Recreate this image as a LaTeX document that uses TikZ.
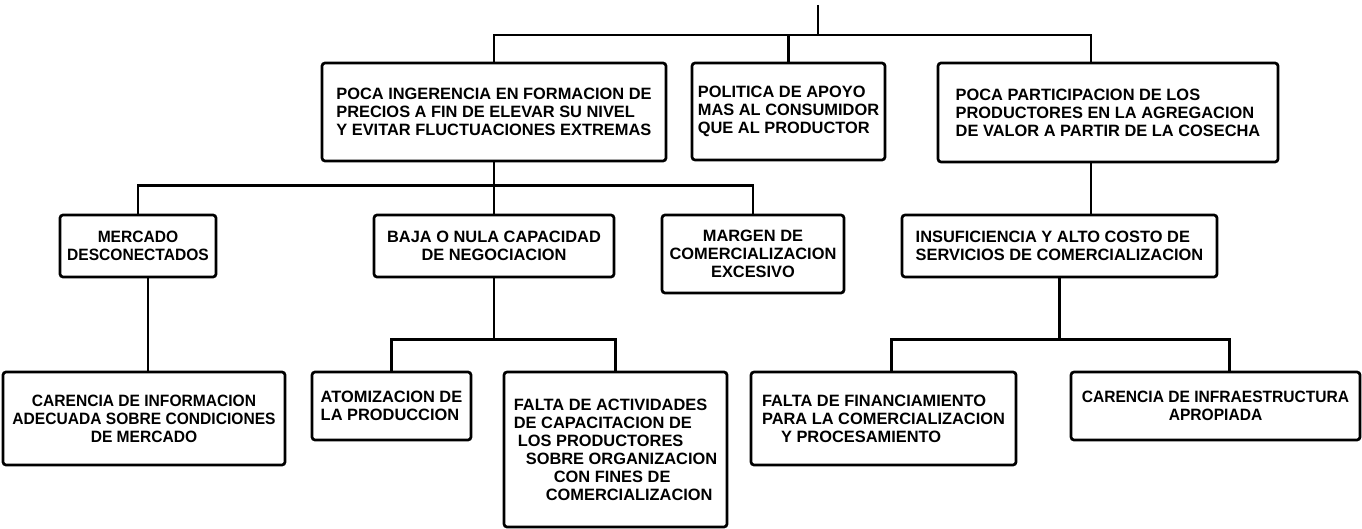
\documentclass[tikz,border=0pt]{standalone}
\usepackage{fontspec}
\setmainfont{Liberation Sans}
\begin{document}
\begin{tikzpicture}[x=1pt,y=-1pt,
  box/.style={draw, line width=2.7pt, rounded corners=3pt, inner sep=2pt,
    font=\fontsize{16.4pt}{18pt}\selectfont\bfseries, align=center},
  narrow/.style={font=\fontsize{16.4pt}{18pt}\selectfont\bfseries\addfontfeature{FakeStretch=0.95}},
  link/.style={line width=2.7pt}]
\useasboundingbox (0,0) rectangle (1362,529);
% row 1
\node[box, align=left, minimum width=344pt, minimum height=98pt] (box1) at (494,112)
  {POCA INGERENCIA EN FORMACION DE\\PRECIOS A FIN DE ELEVAR SU NIVEL\\Y EVITAR FLUCTUACIONES EXTREMAS};
\node[box, align=left, minimum width=193pt, minimum height=97pt] (box2) at (788.5,111.5)
  {POLITICA DE APOYO\\MAS AL CONSUMIDOR\\QUE AL PRODUCTOR};
\node[box, align=left, minimum width=340pt, minimum height=99pt] (box3) at (1108,112.5)
  {POCA PARTICIPACION DE LOS\\PRODUCTORES EN LA AGREGACION\\DE VALOR A PARTIR DE LA COSECHA};
% row 2
\node[box, narrow, minimum width=156pt, minimum height=62pt] (mercado) at (138,246)
  {MERCADO\\DESCONECTADOS};
\node[box, minimum width=240pt, minimum height=62pt] (baja) at (494,246)
  {BAJA O NULA CAPACIDAD\\DE NEGOCIACION};
\node[box, minimum width=182pt, minimum height=78pt] (margen) at (753,254)
  {MARGEN DE\\COMERCIALIZACION\\EXCESIVO};
\node[box, align=left, minimum width=315pt, minimum height=62pt] (insuf) at (1059.5,246)
  {INSUFICIENCIA Y ALTO COSTO DE\\SERVICIOS DE COMERCIALIZACION};
% row 3
\node[box, narrow, minimum width=282pt, minimum height=93pt] (carinfo) at (144,418.5)
  {CARENCIA DE INFORMACION\\ADECUADA SOBRE CONDICIONES\\DE MERCADO};
\node[box, align=left, minimum width=159pt, minimum height=68pt] (atom) at (391.5,406)
  {ATOMIZACION DE\\LA PRODUCCION};
\node[box, align=left, minimum width=223pt, minimum height=155pt] (falta) at (615.5,449.5)
  {FALTA DE ACTIVIDADES\\DE CAPACITACION DE\\\hspace*{4pt}LOS PRODUCTORES\\\hspace*{12pt}SOBRE ORGANIZACION\\\hspace*{40pt}CON FINES DE\\\hspace*{32pt}COMERCIALIZACION};
\node[box, align=left, minimum width=265pt, minimum height=93pt] (finan) at (883.5,418.5)
  {FALTA DE FINANCIAMIENTO\\PARA LA COMERCIALIZACION\\\hspace*{19pt}Y PROCESAMIENTO};
\node[box, narrow, minimum width=289pt, minimum height=68pt] (infra) at (1215.5,406)
  {CARENCIA DE INFRAESTRUCTURA\\APROPIADA};
% connectors
\coordinate (root) at (818,5);
\coordinate (top) at (818,35);
\draw[link] (root) -- (top);
\draw[link] (box1.north) |- (top) -| ([xshift=-17pt]box3.north);
\draw[link] (box2.north) -- (box2.north |- top);
\path (box1.south) ++(0,23) coordinate (bus2);
\draw[link] (box1.south) -- (baja.north);
\draw[link] (mercado.north) |- (bus2) -| (margen.north);
\draw[link] ([xshift=-17pt]box3.south) -- ([xshift=-17pt]box3.south |- insuf.north);
\draw[link] ([xshift=10pt]mercado.south) -- ([xshift=10pt]mercado.south |- carinfo.north);
\path (baja.south) ++(0,61) coordinate (bus3);
\draw[link] (baja.south) -- (bus3);
\draw[link] (atom.north) |- (bus3) -| (falta.north);
\path (insuf.south) ++(0,61) coordinate (bus4);
\draw[link] (insuf.south) -- (bus4);
\draw[link] ([xshift=8pt]finan.north) |- (bus4) -| ([xshift=14pt]infra.north);
\end{tikzpicture}
\end{document}
